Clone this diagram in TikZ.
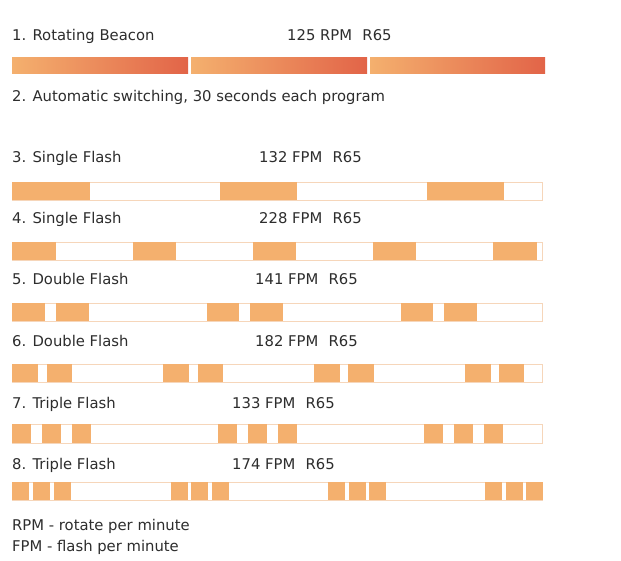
\documentclass[tikz,border=0pt]{standalone}
\usepackage{fontspec}
\setmainfont{DejaVu Sans}
\definecolor{flashorange}{RGB}{244,176,110}
\definecolor{barline}{RGB}{246,214,186}
\definecolor{beaconred}{RGB}{226,100,72}
\definecolor{labelgray}{RGB}{45,45,45}

\begin{document}
\begin{tikzpicture}[x=1pt,y=-1pt,
  lbl/.style={anchor=base west,inner sep=0pt,text=labelgray,font=\fontsize{14.8}{17}\selectfont},
  flash/.style={fill=flashorange},
  barframe/.style={draw=barline,fill=white,line width=0.8pt}]
  \useasboundingbox[fill=white] (0,0) rectangle (621,561);
  % program 1: rotating beacon
  \node[lbl] (p1) at (12,41) {1. Rotating Beacon};
  \node[lbl] (p1rate) at (287,41) {125 RPM\hspace{0.7em}R65};
  \foreach \a/\b in {12/188,191/367,370/545}
    \shade[left color=flashorange,right color=beaconred] (\a,58) rectangle (\b,74);
  \node[lbl] (p2) at (12,102) {2. Automatic switching, 30 seconds each program};
  % program 3
  \node[lbl] (p3) at (12,163) {3. Single Flash};
  \node[lbl] (p3rate) at (259,163) {132 FPM\hspace{0.7em}R65};
  \draw[barframe] (12,182) rectangle (542,200);
  \foreach \a/\b in {12/90,220/297,427/504} \fill[flash] (\a,182) rectangle (\b,200);
  % program 4
  \node[lbl] (p4) at (12,224) {4. Single Flash};
  \node[lbl] (p4rate) at (259,224) {228 FPM\hspace{0.7em}R65};
  \draw[barframe] (12,242) rectangle (542,260);
  \foreach \a/\b in {12/56,133/176,253/296,373/416,493/537} \fill[flash] (\a,242) rectangle (\b,260);
  % program 5
  \node[lbl] (p5) at (12,285) {5. Double Flash};
  \node[lbl] (p5rate) at (255,285) {141 FPM\hspace{0.7em}R65};
  \draw[barframe] (12,303) rectangle (542,321);
  \foreach \a/\b in {12/45,56/89,207/239,250/283,401/433,444/477} \fill[flash] (\a,303) rectangle (\b,321);
  % program 6
  \node[lbl] (p6) at (12,346) {6. Double Flash};
  \node[lbl] (p6rate) at (255,346) {182 FPM\hspace{0.7em}R65};
  \draw[barframe] (12,364) rectangle (542,382);
  \foreach \a/\b in {12/38,47/72,163/189,198/223,314/340,348/374,465/491,499/524} \fill[flash] (\a,364) rectangle (\b,382);
  % program 7
  \node[lbl] (p7) at (12,408) {7. Triple Flash};
  \node[lbl] (p7rate) at (232,408) {133 FPM\hspace{0.7em}R65};
  \draw[barframe] (12,424) rectangle (542,443);
  \foreach \a/\b in {12/31,42/61,72/91,218/237,248/267,278/297,424/443,454/473,484/503} \fill[flash] (\a,424) rectangle (\b,443);
  % program 8
  \node[lbl] (p8) at (12,469) {8. Triple Flash};
  \node[lbl] (p8rate) at (232,469) {174 FPM\hspace{0.7em}R65};
  \draw[barframe] (12,482) rectangle (542,500);
  \foreach \a/\b in {12/29,33/50,54/71,171/188,191/208,212/229,328/345,349/366,369/386,485/502,506/523,526/543} \fill[flash] (\a,482) rectangle (\b,500);
  % legend
  \node[lbl] (rpm) at (12,530) {RPM - rotate per minute};
  \node[lbl] (fpm) at (12,551) {FPM - flash per minute};
\end{tikzpicture}
\end{document}
